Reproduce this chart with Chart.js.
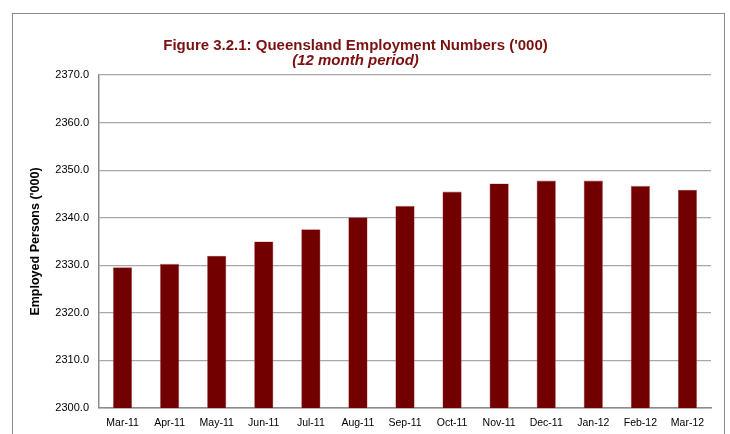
<!DOCTYPE html>
<html>
<head>
<meta charset="utf-8">
<script src="https://cdn.jsdelivr.net/npm/chart.js@4/dist/chart.umd.min.js"></script>
<style>
  html, body { margin: 0; padding: 0; background: #fff; overflow: hidden; }
  #frame {
    position: absolute; left: 12px; top: 13px; width: 711px; height: 480px;
    border: 1.5px solid #8c8c8c;
  }
  #wrap { position: absolute; left: 0; top: 0; width: 730px; height: 434px; }
</style>
</head>
<body>
<div id="frame"></div>
<div id="wrap"><canvas id="employmentChart" width="730" height="434"></canvas></div>
<script>
const months = ["Mar-11", "Apr-11", "May-11", "Jun-11", "Jul-11", "Aug-11", "Sep-11",
  "Oct-11", "Nov-11", "Dec-11", "Jan-12", "Feb-12", "Mar-12"];
const employed = [2329.6, 2330.3, 2332.0, 2335.0, 2337.6, 2340.1, 2342.5,
  2345.5, 2347.2, 2347.8, 2347.8, 2346.7, 2345.9];
const yTicks = [2300, 2310, 2320, 2330, 2340, 2350, 2360, 2370];

const titleColor = "#7b1010";
const barColor = "#730000";

const ctx = document.getElementById("employmentChart");
new Chart(ctx, {
  type: "bar",
  data: {
    labels: months,
    datasets: [
      {
        label: "Employed Persons ('000)",
        data: employed,
        backgroundColor: barColor,
        borderColor: "#b87070",
        borderWidth: 0.6,
        categoryPercentage: 1,
        barPercentage: 0.41,
      },
    ],
  },
  options: {
    responsive: false,
    animation: false,
    layout: { padding: { left: 0, right: 19, top: 38, bottom: 0 } },
    plugins: {
      legend: { display: false },
      tooltip: { enabled: false },
      title: {
        display: true,
        text: "Figure 3.2.1: Queensland Employment Numbers ('000)",
        color: titleColor,
        font: { family: "Liberation Sans", size: 15, weight: "bold", lineHeight: 1.0 },
        padding: { top: 0, bottom: 0 },
      },
      subtitle: {
        display: true,
        text: "(12 month period)",
        color: titleColor,
        font: { family: "Liberation Sans", size: 15, weight: "bold", style: "italic", lineHeight: 1.0 },
        padding: { top: 0, bottom: 7 },
      },
    },
    scales: {
      x: {
        grid: { display: false, drawTicks: false },
        border: { color: "#8c8c8c", width: 1.5 },
        ticks: {
          color: "#000",
          padding: 9,
          maxRotation: 0,
          autoSkip: false,
          font: { family: "Liberation Sans", size: 10.5 },
        },
        afterFit: (scale) => { scale.height = 26; },
      },
      y: {
        min: 2300,
        max: 2370,
        afterBuildTicks: (scale) => {
          scale.ticks = yTicks.map((v) => ({ value: v }));
        },
        grid: { color: "#a8a8a8", lineWidth: 1.2, drawTicks: false },
        border: { color: "#8c8c8c", width: 1.5 },
        ticks: {
          color: "#000",
          padding: 10,
          font: { family: "Liberation Sans", size: 11 },
          callback: (v) => Number(v).toFixed(1),
        },
        title: {
          display: true,
          text: "Employed Persons ('000)",
          color: "#000",
          font: { family: "Liberation Sans", size: 12.5, weight: "bold" },
          padding: { top: 28, bottom: 0 },
        },
        afterFit: (scale) => { scale.width = 99; },
      },
    },
  },
});
</script>
</body>
</html>
